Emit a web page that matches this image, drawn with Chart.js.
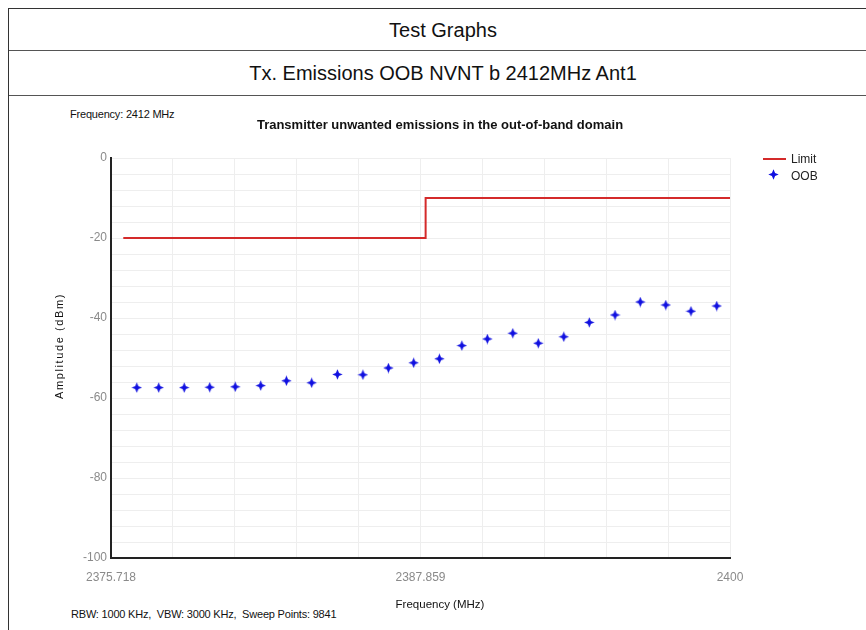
<!DOCTYPE html>
<html>
<head>
<meta charset="utf-8">
<script src="https://cdn.jsdelivr.net/npm/chart.js@4/dist/chart.umd.min.js"></script>
<style>
  html, body { margin:0; padding:0; background:#fff; width:866px; height:630px; overflow:hidden; }
  #frame { position:absolute; left:8px; top:8px; width:870px; height:640px; border:1px solid #333; box-sizing:border-box; }
  .row { position:absolute; left:0; width:100%; text-align:center; font-family:"Liberation Sans", Arial, sans-serif; font-size:20px; color:#111; }
  .sep { position:absolute; left:0; width:100%; height:0; border-top:1.5px solid #555; }
  .note { position:absolute; font-family:"Liberation Sans", Arial, sans-serif; font-size:11px; color:#111; letter-spacing:-0.2px; white-space:nowrap; }
  #c { position:absolute; left:0; top:0; }
</style>
</head>
<body>
<div id="frame">
  <div class="row" style="top:10px;">Test Graphs</div>
  <div class="sep" style="top:41px;"></div>
  <div class="row" style="top:53px;">Tx. Emissions OOB NVNT b 2412MHz Ant1</div>
  <div class="sep" style="top:86px;"></div>
</div>
<div class="note" style="left:70px; top:108px;">Frequency: 2412 MHz</div>
<div class="note" style="left:71px; top:608px;">RBW: 1000 KHz,&nbsp; VBW: 3000 KHz,&nbsp; Sweep Points: 9841</div>
<canvas id="c" width="866" height="630"></canvas>
<script>
// ---- data ----
const chartTitle = 'Transmitter unwanted emissions in the out-of-band domain';
const xAxisTitle = 'Frequency (MHz)';
const yAxisTitle = 'Amplitude (dBm)';
const xMin = 2375.718, xMax = 2400;
const xTickLabels = ['2375.718', '2387.859', '2400'];
const yMin = -100, yMax = 0;

const limitFreq = [2376.2, 2388.06, 2388.06, 2400];
const limitAmp  = [-20, -20, -10, -10];

const oobFreq = [2376.73, 2377.59, 2378.59, 2379.59, 2380.59, 2381.59, 2382.60, 2383.59,
                 2384.60, 2385.60, 2386.60, 2387.59, 2388.60, 2389.48, 2390.48, 2391.48,
                 2392.48, 2393.48, 2394.48, 2395.49, 2396.48, 2397.48, 2398.47, 2399.48];
const oobAmp  = [-57.4, -57.4, -57.4, -57.3, -57.2, -56.9, -55.7, -56.2,
                 -54.1, -54.2, -52.5, -51.2, -50.2, -46.9, -45.25, -43.8,
                 -46.3, -44.7, -41.1, -39.25, -36.0, -36.75, -38.3, -37.0];

const limitColor = '#d42a2a';
const oobColor = '#1010e0';
const FONT = '"Liberation Sans", Arial, sans-serif';

// 4-point star marker
function makeStar(size, color) {
  const cv = document.createElement('canvas');
  cv.width = size; cv.height = size;
  const g = cv.getContext('2d');
  const c = size / 2, ro = size / 2 - 0.3, ri = size * 0.2;
  g.beginPath();
  for (let i = 0; i < 8; i++) {
    const a = -Math.PI / 2 + i * Math.PI / 4;
    const r = (i % 2 === 0) ? ro : ri;
    const px = c + r * Math.cos(a), py = c + r * Math.sin(a);
    if (i === 0) g.moveTo(px, py); else g.lineTo(px, py);
  }
  g.closePath();
  g.fillStyle = color;
  g.fill();
  return cv;
}
const starImg = makeStar(11, oobColor);

const textPlugin = {
  id: 'customText',
  afterDraw(chart) {
    const ctx = chart.ctx;
    const area = chart.chartArea;
    ctx.save();
    // chart title
    ctx.fillStyle = '#111';
    ctx.textAlign = 'center';
    ctx.textBaseline = 'middle';
    ctx.font = 'bold 13px ' + FONT;
    ctx.fillText(chartTitle, 440, 125);
    // x axis title
    ctx.font = '11.5px ' + FONT;
    ctx.fillText(xAxisTitle, 440, 605);
    // y axis title
    ctx.save();
    ctx.translate(60, 346);
    ctx.rotate(-Math.PI / 2);
    ctx.font = '11px ' + FONT;
    if ('letterSpacing' in ctx) ctx.letterSpacing = '1.6px';
    ctx.fillText(yAxisTitle, 0, 0);
    ctx.restore();
    // legend
    ctx.textAlign = 'left';
    ctx.font = '12px ' + FONT;
    ctx.fillStyle = '#222';
    ctx.strokeStyle = limitColor;
    ctx.lineWidth = 2;
    ctx.beginPath(); ctx.moveTo(763, 159); ctx.lineTo(786, 159); ctx.stroke();
    ctx.fillText(chart.data.datasets[0].label, 791, 160);
    ctx.drawImage(starImg, 768, 169);
    ctx.fillText(chart.data.datasets[1].label, 791, 177);
    ctx.restore();
  }
};

const axisFont = { family: FONT, size: 12 };

new Chart(document.getElementById('c'), {
  type: 'scatter',
  data: {
    datasets: [
      {
        label: 'Limit',
        data: limitFreq.map((f, i) => ({ x: f, y: limitAmp[i] })),
        showLine: true,
        borderColor: limitColor,
        borderWidth: 2,
        pointRadius: 0,
        fill: false
      },
      {
        label: 'OOB',
        data: oobFreq.map((f, i) => ({ x: f, y: oobAmp[i] })),
        showLine: false,
        pointStyle: starImg,
        pointRadius: 5,
        backgroundColor: oobColor,
        borderColor: oobColor
      }
    ]
  },
  options: {
    responsive: false,
    animation: false,
    layout: { padding: { left: 51, right: 136, top: 158, bottom: 12 } },
    plugins: {
      legend: { display: false },
      tooltip: { enabled: false },
      title: { display: false }
    },
    scales: {
      x: {
        type: 'linear',
        min: xMin, max: xMax,
        afterBuildTicks(scale) {
          const t = [];
          for (let i = 0; i <= 10; i++) t.push({ value: xMin + (xMax - xMin) * i / 10 });
          scale.ticks = t;
        },
        afterFit(scale) { scale.height = 60; },
        ticks: {
          autoSkip: false, maxRotation: 0, padding: 12,
          color: '#8a8a8a', font: axisFont,
          callback(v, i) { return i % 5 === 0 ? xTickLabels[i / 5] : ''; }
        },
        grid: { color: '#eeeeee', drawTicks: false },
        border: { color: '#222', width: 2 }
      },
      y: {
        min: yMin, max: yMax,
        afterFit(scale) { scale.width = 60; },
        ticks: {
          stepSize: 4, autoSkip: false, padding: 4,
          color: '#8a8a8a', font: axisFont,
          callback(v) { return v % 20 === 0 ? String(v) : ''; }
        },
        grid: { color: '#eeeeee', drawTicks: false },
        border: { color: '#222', width: 2 }
      }
    }
  },
  plugins: [textPlugin]
});
</script>
</body>
</html>
